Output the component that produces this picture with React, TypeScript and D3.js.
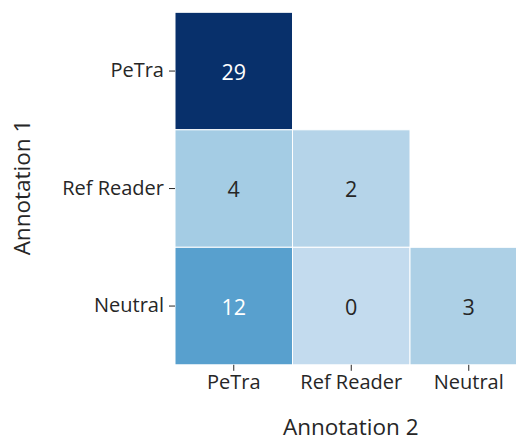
import { useRef, useEffect } from 'react'
import * as d3 from 'd3'

const rowLabels = ['PeTra', 'Ref Reader', 'Neutral']
const colLabels = ['PeTra', 'Ref Reader', 'Neutral']
// lower triangle counts, row by row (null = masked)
const petraRow = [29, null, null]
const refReaderRow = [4, 2, null]
const neutralRow = [12, 0, 3]
const matrix = [petraRow, refReaderRow, neutralRow]
const colorMin = -9.67
const colorMax = 29

const FONT = '"Open Sans", "DejaVu Sans", sans-serif'

const App = () => {
  const svgRef = useRef<SVGSVGElement>(null)

  useEffect(() => {
    if (!svgRef.current) return
    const width = 516
    const height = 441
    const svg = d3.select(svgRef.current)
    svg.selectAll('*').remove()
    svg.attr('width', width).attr('height', height)

    const left = 175
    const top = 12.3
    const cell = 117.5
    const size = cell * 3

    const x = d3.scaleBand<string>().domain(colLabels).range([left, left + size])
    const y = d3.scaleBand<string>().domain(rowLabels).range([top, top + size])
    const color = d3.scaleSequential(d3.interpolateBlues).domain([colorMin, colorMax])

    const cells: { r: string; c: string; v: number }[] = []
    matrix.forEach((row, i) => {
      row.forEach((v, j) => {
        if (v !== null) cells.push({ r: rowLabels[i], c: colLabels[j], v })
      })
    })

    const g = svg.append('g')

    g.selectAll('rect')
      .data(cells)
      .join('rect')
      .attr('x', d => x(d.c)!)
      .attr('y', d => y(d.r)!)
      .attr('width', x.bandwidth())
      .attr('height', y.bandwidth())
      .attr('fill', d => color(d.v))
      .attr('stroke', '#fff')
      .attr('stroke-width', 1)

    g.selectAll('text.val')
      .data(cells)
      .join('text')
      .attr('class', 'val')
      .attr('x', d => x(d.c)! + x.bandwidth() / 2)
      .attr('y', d => y(d.r)! + y.bandwidth() / 2)
      .attr('text-anchor', 'middle')
      .attr('dominant-baseline', 'central')
      .style('font-family', FONT)
      .style('font-size', '21.5px')
      .attr('fill', d => ((d.v - colorMin) / (colorMax - colorMin) > 0.5 ? '#ffffff' : '#262626'))
      .text(d => d.v)

    // y axis
    const yAxis = g.append('g')
      .attr('transform', `translate(${left},0)`)
      .call(d3.axisLeft(y).tickSize(6).tickPadding(5))
    yAxis.select('.domain').remove()
    yAxis.selectAll('line').attr('stroke', '#262626').attr('stroke-width', 1)
    yAxis.selectAll('text')
      .style('font-family', FONT)
      .style('font-size', '20px')
      .attr('fill', '#262626')

    // x axis
    const xAxis = g.append('g')
      .attr('transform', `translate(0,${top + size})`)
      .call(d3.axisBottom(x).tickSize(6).tickPadding(4))
    xAxis.select('.domain').remove()
    xAxis.selectAll('line').attr('stroke', '#262626').attr('stroke-width', 1)
    xAxis.selectAll('text')
      .style('font-family', FONT)
      .style('font-size', '20px')
      .attr('fill', '#262626')

    // axis titles
    svg.append('text')
      .attr('x', left + size / 2 - 0.5)
      .attr('y', 435)
      .attr('text-anchor', 'middle')
      .style('font-family', FONT)
      .style('font-size', '22.5px')
      .attr('fill', '#262626')
      .text('Annotation 2')

    svg.append('text')
      .attr('transform', `translate(30,${top + size / 2 - 1}) rotate(-90)`)
      .attr('text-anchor', 'middle')
      .style('font-family', FONT)
      .style('font-size', '22.5px')
      .attr('fill', '#262626')
      .text('Annotation 1')
  }, [])

  return (
    <div style={{ position: 'absolute', left: 0, top: 0, width: 516, height: 441, overflow: 'hidden', background: '#fff' }}>
      <svg ref={svgRef} style={{ display: 'block' }} />
    </div>
  )
}

export default App
